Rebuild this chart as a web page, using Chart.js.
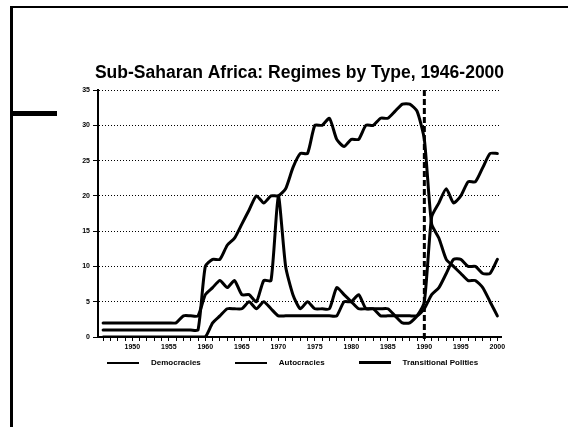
<!DOCTYPE html>
<html>
<head>
<meta charset="utf-8">
<script src="https://cdn.jsdelivr.net/npm/chart.js@4.4.1/dist/chart.umd.min.js"></script>
<style>
    html, body {
        margin: 0;
        padding: 0;
        background: #fff;
    }
    .page {
        position: relative;
        width: 568px;
        height: 427px;
        overflow: hidden;
    }
    .frame-top {
        position: absolute;
        left: 10px;
        top: 6px;
        width: 558px;
        height: 2px;
        background: #000;
    }
    .frame-left {
        position: absolute;
        left: 10px;
        top: 6px;
        width: 3px;
        height: 421px;
        background: #000;
    }
    .frame-mark {
        position: absolute;
        left: 10px;
        top: 111px;
        width: 47px;
        height: 5px;
        background: #000;
    }
    #regimeChart {
        position: absolute;
        left: 0;
        top: 0;
    }
    .legend {
        position: absolute;
        left: 107px;
        top: 358px;
        display: flex;
        align-items: center;
        gap: 34px;
        font-family: 'Liberation Sans', Arial, sans-serif;
        font-size: 8px;
        font-weight: bold;
        color: #000;
        white-space: nowrap;
    }
    .legend-item {
        display: flex;
        align-items: center;
        gap: 12px;
    }
    .legend-line {
        width: 32px;
        background: #000;
    }
</style>
</head>
<body>
<div class="page">
    <canvas id="regimeChart" width="568" height="427"></canvas>
    <div class="legend" id="legend"></div>
    <div class="frame-top"></div>
    <div class="frame-left"></div>
    <div class="frame-mark"></div>
</div>

<script>
// values, one per year 1946-2000
const years = [];
for (let y = 1946; y <= 2000; y++) years.push(y);

const democracies = [
    2, 2, 2, 2, 2, 2, 2, 2, 2, 2, 2,   // 1946-1956
    3, 3, 3,                           // 1957-1959
    6, 7, 8, 7, 8, 6, 6, 5, 8, 8,      // 1960s
    20, 10, 6, 4, 5, 4, 4, 4, 7, 6,    // 1970s
    5, 4, 4, 4, 4, 4, 3, 2, 2, 3,      // 1980s
    5, 17, 19, 21, 19, 20, 22, 22, 24, 26, 26
];

const autocracies = [
    1, 1, 1, 1, 1, 1, 1, 1, 1, 1, 1, 1, 1, 1,
    10, 11, 11, 13, 14, 16, 18, 20, 19, 20,
    20, 21, 24, 26, 26, 30, 30, 31, 28, 27,
    28, 28, 30, 30, 31, 31, 32, 33, 33, 32,
    28, 16, 14, 11, 10, 9, 8, 8, 7, 5, 3
];

const transitional = [
    0, 0, 0, 0, 0, 0, 0, 0, 0, 0, 0, 0, 0, 0, 0,
    2, 3, 4, 4, 4, 5, 4, 5, 4,
    3, 3, 3, 3, 3, 3, 3, 3, 3, 5,
    5, 6, 4, 4, 3, 3, 3, 3, 3, 3,
    4, 6, 7, 9, 11, 11, 10, 10, 9, 9, 11
];

const seriesLabels = ['Democracies', 'Autocracies', 'Transitional Polities'];
const legendThickness = [2, 2, 3];
const yTicks = [0, 5, 10, 15, 20, 25, 30, 35];
const xLabelYears = [1950, 1955, 1960, 1965, 1970, 1975, 1980, 1985, 1990, 1995, 2000];
const markerYear = 1990;
const chartTitle = 'Sub-Saharan Africa: Regimes by Type, 1946-2000';

const tickFont = { family: 'Liberation Sans, Arial, sans-serif', size: 7, weight: 'bold' };

document.addEventListener('DOMContentLoaded', () => {
    initChart();
});

function toPoints(values) {
    return values.map((v, i) => ({ x: years[i], y: v }));
}

function makeDataset(label, values) {
    return {
        label,
        data: toPoints(values),
        borderColor: '#000',
        backgroundColor: '#000',
        borderWidth: 3,
        pointRadius: 0,
        tension: 0.2,
        borderJoinStyle: 'round',
        borderCapStyle: 'round',
        fill: false
    };
}

// dashed vertical line at 1990
const markerLine = {
    id: 'markerLine',
    afterDatasetsDraw(chart) {
        const x = chart.scales.x.getPixelForValue(markerYear);
        const area = chart.chartArea;
        const ctx = chart.ctx;
        ctx.save();
        ctx.strokeStyle = '#000';
        ctx.lineWidth = 3;
        ctx.setLineDash([6, 3]);
        ctx.beginPath();
        ctx.moveTo(x, area.top);
        ctx.lineTo(x, area.bottom + 5);
        ctx.stroke();
        ctx.restore();
    }
};

// title centred over the plot area, not over the whole canvas
const areaTitle = {
    id: 'areaTitle',
    afterDraw(chart) {
        const area = chart.chartArea;
        const ctx = chart.ctx;
        ctx.save();
        ctx.fillStyle = '#000';
        ctx.font = 'bold 17.5px "Liberation Sans", Arial, sans-serif';
        ctx.textAlign = 'center';
        ctx.textBaseline = 'middle';
        ctx.fillText(chartTitle, (area.left + area.right) / 2, 73);
        ctx.restore();
    }
};

// legend built as html from the datasets
const htmlLegend = {
    id: 'htmlLegend',
    afterUpdate(chart) {
        const box = document.getElementById('legend');
        box.innerHTML = '';
        chart.data.datasets.forEach((ds, i) => {
            const item = document.createElement('div');
            item.className = 'legend-item';
            const line = document.createElement('span');
            line.className = 'legend-line';
            line.style.height = legendThickness[i] + 'px';
            const text = document.createElement('span');
            text.textContent = ds.label;
            item.appendChild(line);
            item.appendChild(text);
            box.appendChild(item);
        });
    }
};

function initChart() {
    const ctx = document.getElementById('regimeChart').getContext('2d');
    new Chart(ctx, {
        type: 'line',
        data: {
            datasets: [
                makeDataset(seriesLabels[0], democracies),
                makeDataset(seriesLabels[1], autocracies),
                makeDataset(seriesLabels[2], transitional)
            ]
        },
        options: {
            responsive: false,
            animation: false,
            layout: {
                padding: { left: 0, right: 67, top: 90, bottom: 72 }
            },
            plugins: {
                title: { display: false },
                legend: { display: false },
                tooltip: { enabled: false }
            },
            scales: {
                x: {
                    type: 'linear',
                    min: 1945.3,
                    max: 2000.5,
                    afterBuildTicks: axis => {
                        axis.ticks = years.map(v => ({ value: v }));
                    },
                    afterFit: scale => {
                        scale.height = 18;
                    },
                    grid: {
                        drawOnChartArea: false,
                        color: '#000',
                        tickLength: 4,
                        lineWidth: 1
                    },
                    border: { color: '#000', width: 2 },
                    ticks: {
                        color: '#000',
                        font: tickFont,
                        autoSkip: false,
                        maxRotation: 0,
                        padding: 2,
                        callback: value => xLabelYears.includes(value) ? String(value) : ''
                    }
                },
                y: {
                    min: 0,
                    max: 35,
                    afterBuildTicks: axis => {
                        axis.ticks = yTicks.map(v => ({ value: v }));
                    },
                    afterFit: scale => {
                        scale.width = 98;
                    },
                    grid: {
                        color: '#000',
                        lineWidth: 1,
                        tickLength: 5,
                        tickBorderDash: [],
                        tickColor: '#000'
                    },
                    border: { color: '#000', width: 2, dash: [1, 2] },
                    ticks: {
                        color: '#000',
                        font: tickFont,
                        padding: 3
                    }
                }
            }
        },
        plugins: [markerLine, areaTitle, htmlLegend]
    });
}
</script>
</body>
</html>
